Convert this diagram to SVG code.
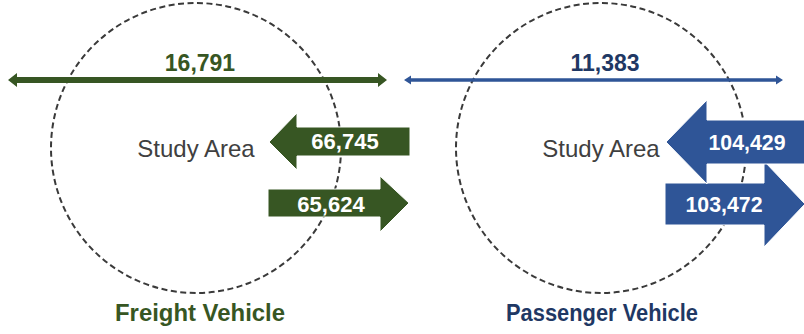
<svg xmlns="http://www.w3.org/2000/svg" width="804" height="334" viewBox="0 0 804 334">
<style>
.area{fill:none;stroke:#3a3a3a;stroke-width:2;stroke-dasharray:6 3.5}
.lbl{font-family:"Liberation Sans",Arial,sans-serif;font-size:24px;fill:#404040;text-anchor:middle}
.num{font-family:"Liberation Sans",Arial,sans-serif;font-weight:bold;font-size:22px;fill:#fff;text-anchor:middle}
.ttl{font-family:"Liberation Sans",Arial,sans-serif;font-weight:bold;font-size:23px;text-anchor:middle}
.g{fill:#375623}
.b{fill:#2f5597}
.blk{stroke:#fff;stroke-width:1}
</style>
<rect width="804" height="334" fill="#fff"/>
<g id="freight">
  <circle class="area" cx="196" cy="148" r="145"/>
  <text class="lbl" x="196" y="157">Study Area</text>
  <text class="ttl" x="200" y="321" fill="#375623" font-size="24" textLength="170" lengthAdjust="spacingAndGlyphs">Freight Vehicle</text>
</g>
<g id="passenger">
  <circle class="area" cx="601" cy="148" r="145"/>
  <text class="lbl" x="601" y="157">Study Area</text>
  <text class="ttl" x="602" y="321" fill="#1f3864" font-size="24" textLength="192" lengthAdjust="spacingAndGlyphs">Passenger Vehicle</text>
</g>
<g id="connectors">
  <g id="freight-through">
    <path class="g" d="M8,80 L17,73 L17,77 L378,77 L378,73 L387,80 L378,87 L378,83 L17,83 L17,87 Z"/>
    <text class="ttl" x="200" y="71" fill="#375623" font-size="24">16,791</text>
  </g>
  <g id="freight-in">
    <path class="g blk" d="M269,142 L297,113 L297,127 L410,127 L410,156 L297,156 L297,170 Z"/>
    <text class="num" x="345" y="149">66,745</text>
  </g>
  <g id="freight-out">
    <path class="g blk" d="M268,189 L380,189 L380,176 L409,203 L380,232 L380,217 L268,217 Z"/>
    <text class="num" x="331" y="212">65,624</text>
  </g>
  <g id="passenger-through">
    <path class="b" d="M404,80 L411,75.5 L411,78.2 L776,78.2 L776,75.5 L783,80 L776,84.5 L776,81.8 L411,81.8 L411,84.5 Z"/>
    <text class="ttl" x="605" y="71" fill="#1f3864" font-size="24">11,383</text>
  </g>
  <g id="passenger-out">
    <path class="b blk" d="M665,183 L764,183 L764,161 L805,204 L764,247 L764,225 L665,225 Z"/>
    <text class="num" x="724" y="212" textLength="77" lengthAdjust="spacingAndGlyphs">103,472</text>
  </g>
  <g id="passenger-in">
    <path class="b blk" d="M666,142 L707,100 L707,120 L810,120 L810,164 L707,164 L707,184 Z"/>
    <text class="num" x="747" y="150" textLength="77" lengthAdjust="spacingAndGlyphs">104,429</text>
  </g>
</g>
</svg>
